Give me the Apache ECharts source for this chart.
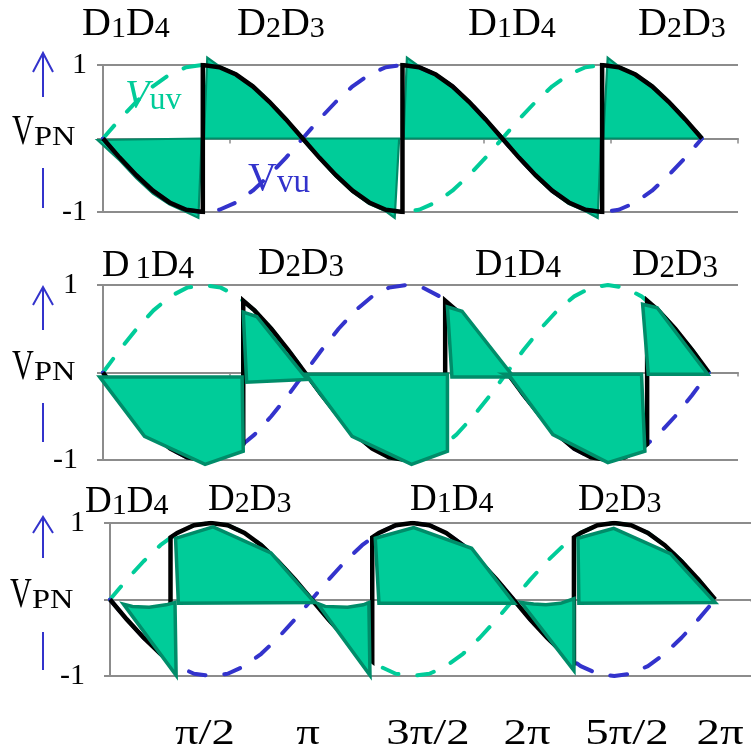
<!DOCTYPE html>
<html><head><meta charset="utf-8">
<script src="https://cdn.jsdelivr.net/npm/echarts@6/dist/echarts.min.js"></script>
<style>html,body{margin:0;padding:0;background:#fff}#c{width:751px;height:753px}</style>
</head><body><div id="c"></div>
<script>
// ---------------- DATA ----------------
// angle samples (degrees) for the two reference line voltages
const angles = [0,15,30,45,60,75,90,105,120,135,150,165,180,195,210,225,240,255,270,285,300,315,330,345,360,375,390,405,420,435,450,465,480,495,510,525,540];
const vuvValues = [0,0.26,0.5,0.71,0.87,0.97,1,0.97,0.87,0.71,0.5,0.26,0,-0.26,-0.5,-0.71,-0.87,-0.97,-1,-0.97,-0.87,-0.71,-0.5,-0.26,0,0.26,0.5,0.71,0.87,0.97,1,0.97,0.87,0.71,0.5,0.26,0];
const vvuValues = [0,-0.26,-0.5,-0.71,-0.87,-0.97,-1,-0.97,-0.87,-0.71,-0.5,-0.26,0,0.26,0.5,0.71,0.87,0.97,1,0.97,0.87,0.71,0.5,0.26,0,-0.26,-0.5,-0.71,-0.87,-0.97,-1,-0.97,-0.87,-0.71,-0.5,-0.26,0];

// VPN (black) for each panel: [angle, value]
const vpn1 = [[0,0],[15,-0.26],[30,-0.5],[45,-0.71],[60,-0.87],[75,-0.97],[90,-1],[90,1],[105,0.97],[120,0.87],[135,0.71],[150,0.5],[165,0.26],[180,0],[195,-0.26],[210,-0.5],[225,-0.71],[240,-0.87],[255,-0.97],[270,-1],[270,1],[285,0.97],[300,0.87],[315,0.71],[330,0.5],[345,0.26],[360,0],[375,-0.26],[390,-0.5],[405,-0.71],[420,-0.87],[435,-0.97],[450,-1],[450,1],[465,0.97],[480,0.87],[495,0.71],[510,0.5],[525,0.26],[540,0]];
const vpn2 = [[0,0],[15,-0.26],[30,-0.5],[45,-0.71],[60,-0.87],[75,-0.97],[90,-1],[105,-0.97],[120,-0.87],[125,-0.82],[125,0.82],[135,0.71],[150,0.5],[165,0.26],[180,0],[195,-0.26],[210,-0.5],[225,-0.71],[240,-0.87],[255,-0.97],[270,-1],[285,-0.97],[300,-0.87],[305,-0.82],[305,0.82],[315,0.71],[330,0.5],[345,0.26],[360,0],[375,-0.26],[390,-0.5],[405,-0.71],[420,-0.87],[435,-0.97],[450,-1],[465,-0.97],[480,-0.87],[485,-0.82],[485,0.82],[495,0.71],[510,0.5],[525,0.26],[540,0]];
const vpn3 = [[0,0],[15,-0.26],[30,-0.5],[45,-0.71],[54,-0.81],[54,0.81],[60,0.87],[75,0.97],[90,1],[105,0.97],[120,0.87],[135,0.71],[150,0.5],[165,0.26],[180,0],[195,-0.26],[210,-0.5],[225,-0.71],[234,-0.81],[234,0.81],[240,0.87],[255,0.97],[270,1],[285,0.97],[300,0.87],[315,0.71],[330,0.5],[345,0.26],[360,0],[375,-0.26],[390,-0.5],[405,-0.71],[414,-0.81],[414,0.81],[420,0.87],[435,0.97],[450,1],[465,0.97],[480,0.87],[495,0.71],[510,0.5],[525,0.26],[540,0]];

// filled regions (polygons of [angle, value]) for each panel
const fill1 = [
  [[-5,-0.02],[15,-0.3],[30,-0.54],[45,-0.75],[60,-0.9],[75,-1.0],[86,-1.08],[89,0]],
  [[91,0],[94,1.1],[105,0.98],[120,0.88],[135,0.72],[150,0.51],[165,0.27],[181,0]],
  [[179,0],[195,-0.27],[210,-0.52],[225,-0.73],[240,-0.89],[255,-0.99],[263,-1.08],[267,0]],
  [[271,0],[274,1.1],[285,0.98],[300,0.88],[315,0.72],[330,0.51],[345,0.27],[361,0]],
  [[359,0],[375,-0.27],[390,-0.52],[405,-0.73],[420,-0.89],[435,-0.99],[446,-1.08],[449,0]],
  [[451,0],[455,1.1],[465,0.98],[480,0.88],[495,0.72],[510,0.51],[525,0.27],[540,0]]
];
const fill2 = [
  [[-3,-0.05],[124,-0.05],[125,-0.9],[91,-1.05],[37,-0.73]],
  [[125,0.69],[137,0.64],[182,-0.08],[128,-0.11]],
  [[180,-0.02],[307,-0.02],[307,-0.9],[275,-1.05],[222,-0.73],[183,-0.06]],
  [[307,0.75],[320,0.7],[366,-0.05],[311,-0.05]],
  [[358,-0.02],[480,-0.02],[483,-0.9],[450,-1.03],[401,-0.71],[363,-0.05]],
  [[481,0.78],[494,0.74],[539,-0.02],[486,-0.02]]
];
const fill3 = [
  [[12,-0.06],[20,-0.09],[35,-0.1],[50,-0.07],[58,-0.04],[59,-0.99]],
  [[58.5,0.8],[92,0.95],[143.6,0.61],[182.6,-0.04],[61,-0.05]],
  [[185,-0.05],[192,-0.09],[212,-0.1],[226,-0.07],[231,-0.04],[232,-0.99]],
  [[236.7,0.8],[271,0.94],[322.7,0.67],[360.8,-0.05],[240,-0.05]],
  [[367,-0.04],[378,-0.06],[389,-0.07],[402,-0.05],[414,0.01],[414,-0.93]],
  [[417.6,0.8],[449.5,0.93],[500,0.6],[540,-0.04],[418.4,-0.05]]
];

const diodeLabels = [['1','4'],['2','3'],['1','4'],['2','3']];
const piLabels = ['π/2','π','3π/2','2π','5π/2','2π'];
const yTickLabels = ['-1','1'];

// ---------------- STYLE / LAYOUT ----------------
const SERIF = '"Liberation Serif","Times New Roman",serif';
const GRAY = '#8c8c8c', TEAL = '#00cc99', DARK = '#008c69', GREEN = '#00cc99', BLUE = '#3333cc';

const panels = [
  {grid:{left:103, top:65, width:635, height:147}, max:572.5, tick:5, labelMargin:16, vpn:vpn1, fill:fill1, fillW:2.2, blackZ:4, fillZ:2, dashZ:3},
  {grid:{left:103, top:285, width:635, height:175}, max:566, tick:4, labelMargin:25, vpn:vpn2, fill:fill2, fillW:3.5, blackZ:3, fillZ:4, dashZ:2},
  {grid:{left:110, top:523, width:645, height:153}, max:572, tick:2, labelMargin:25, vpn:vpn3, fill:fill3, fillW:3.5, blackZ:3, fillZ:4, dashZ:2}
];

const grids = [], xAxes = [], yAxes = [], series = [];
const zipLine = vals => angles.map((a, i) => [a, vals[i]]);
panels.forEach((p, i) => {
  grids.push(Object.assign({containLabel:false}, p.grid));
  xAxes.push({type:'value', gridIndex:i, min:0, max:p.max, interval:p.max/5,
    axisLine:{show:true, onZero:true, lineStyle:{color:GRAY, width:2}},
    axisTick:{show:true, length:p.tick, lineStyle:{color:GRAY, width:1.5}},
    axisLabel:{show:false}, splitLine:{show:false}});
  yAxes.push({type:'value', gridIndex:i, min:-1, max:1, interval:1,
    axisLine:{show:true, lineStyle:{color:GRAY, width:2}},
    axisTick:{show:true, length:6, lineStyle:{color:GRAY, width:2}},
    splitLine:{show:true, lineStyle:{color:GRAY, width:2}},
    axisLabel:{margin:p.labelMargin, fontSize:30, fontFamily:SERIF, color:'#000',
      formatter: v => v === 1 ? yTickLabels[1] : (v === -1 ? yTickLabels[0] : '')}});
  const polys = p.fill;
  series.push({type:'custom', xAxisIndex:i, yAxisIndex:i, z:p.fillZ, silent:true, clip:false,
    data: polys.map(poly => poly[0]), encode:{x:0, y:1},
    renderItem: (params, api) => ({type:'polygon',
      shape:{points: polys[params.dataIndex].map(pt => api.coord(pt))},
      style:{fill:TEAL, stroke:DARK, lineWidth:p.fillW}})});
  series.push({type:'line', xAxisIndex:i, yAxisIndex:i, z:p.dashZ, data:zipLine(vuvValues), symbol:'none', silent:true,
    lineStyle:{color:GREEN, width:4, type:[17,19], cap:'round'}});
  series.push({type:'line', xAxisIndex:i, yAxisIndex:i, z:p.dashZ, data:zipLine(vvuValues), symbol:'none', silent:true,
    lineStyle:{color:BLUE, width:4, type:[17,19], cap:'round'}});
  series.push({type:'line', xAxisIndex:i, yAxisIndex:i, z:p.blackZ, data:p.vpn, symbol:'none', silent:true,
    lineStyle:{color:'#000', width:4.5, join:'miter'}});
});

// rich text helper: parts share one baseline
function richText(x, baseline, parts, align, sx) {
  const Fb = Math.max(...parts.map(q => q.size));
  const rich = {}; let text = '';
  parts.forEach((q, k) => {
    rich['p' + k] = {fontSize:q.size, fontFamily:SERIF, fontStyle:q.italic ? 'italic' : 'normal',
      fill:q.color || '#000', verticalAlign:'bottom', lineHeight:0.325 * Fb + 0.675 * q.size,
      padding:q.pad || 0};
    text += '{p' + k + '|' + q.text + '}';
  });
  return {type:'text', x:x, y:baseline + 0.1625 * Fb, z:100, silent:true, scaleX:sx || 1,
    style:{text:text, rich:rich, align:align || 'left', verticalAlign:'bottom'}};
}
const els = [];
const dPos = [
  {big:40, small:30, items:[[82,38],[237,38],[468,38],[638,38]]},
  {big:38, small:31, items:[[102,279],[258,277],[475,278],[632,278]]},
  {big:37, small:30, items:[[85,515],[208,513],[410,513],[578,513]]}
];
dPos.forEach((d, pi) => d.items.forEach((pos, k) => {
  const lab = diodeLabels[k];
  els.push(richText(pos[0], pos[1], [
    {text:'D', size:d.big}, {text:lab[0], size:d.small, pad:(pi === 1 && k === 0) ? [0,0,0,6] : 0},
    {text:'D', size:d.big}, {text:lab[1], size:d.small}]));
}));
// VPN (V narrower, PN wider as in the figure)
[[12,147],[12,382],[10,610]].forEach(pos => {
  els.push(richText(pos[0], pos[1], [{text:'V', size:42}], 'left', 0.72));
  els.push(richText(pos[0] + 22, pos[1], [{text:'PN', size:27}], 'left', 1.2));
});
// Vuv / Vvu
els.push(richText(125, 110, [{text:'V', size:40, italic:true, color:GREEN}, {text:'uv', size:32, color:GREEN}]));
els.push(richText(248, 193, [{text:'V', size:40, color:BLUE}, {text:'vu', size:33, color:BLUE}]));
// bottom pi labels
[205,308,428,527,627,720].forEach((cx, k) => {
  els.push(richText(cx, 747, [{text:piLabels[k], size:36}], 'center', 1.3));
});
// blue arrows
[[53,72,97,168,208],[287,305,330,403,442],[517,533,558,632,670]].forEach(a => {
  const cx = 43;
  els.push({type:'line', silent:true, z:100, shape:{x1:cx, y1:a[0], x2:cx, y2:a[2]}, style:{stroke:BLUE, lineWidth:2}});
  els.push({type:'polyline', silent:true, z:100, shape:{points:[[cx-10,a[1]],[cx,a[0]],[cx+10,a[1]]]}, style:{stroke:BLUE, lineWidth:2, fill:null}});
  els.push({type:'line', silent:true, z:100, shape:{x1:cx, y1:a[3], x2:cx, y2:a[4]}, style:{stroke:BLUE, lineWidth:2}});
});

const chart = echarts.init(document.getElementById('c'), null, {renderer:'canvas'});
chart.setOption({
  animation:false, backgroundColor:'#fff',
  grid:grids, xAxis:xAxes, yAxis:yAxes, series:series,
  graphic:{elements:els}
});
</script></body></html>
